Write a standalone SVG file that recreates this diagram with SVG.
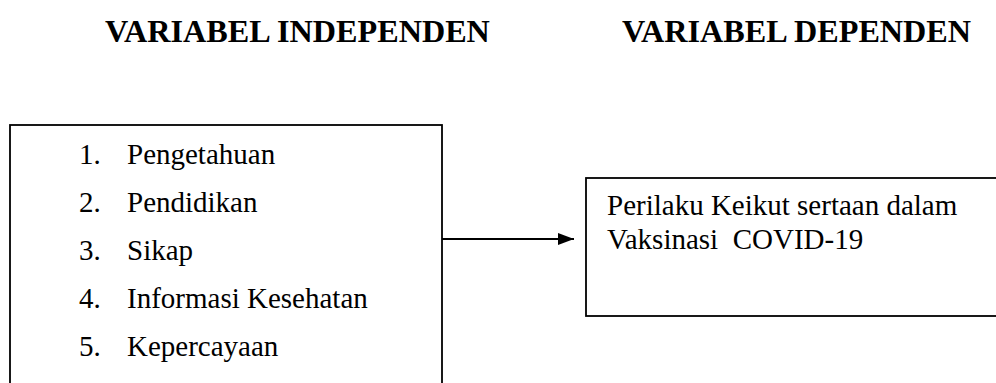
<svg xmlns="http://www.w3.org/2000/svg" width="996" height="383" viewBox="0 0 996 383">
  <style>
    .h { font-family: "Liberation Serif", "Times New Roman", serif; font-weight: bold; font-size: 32.2px; fill: #000; }
    .t { font-family: "Liberation Serif", "Times New Roman", serif; font-size: 29px; fill: #000; white-space: pre; }
    .box { fill: #fff; stroke: #000; stroke-width: 1.8; }
    .conn { stroke: #000; stroke-width: 1.8; fill: none; }
  </style>
  <defs>
    <marker id="arr" markerWidth="16" markerHeight="12" refX="16" refY="6" orient="auto" markerUnits="userSpaceOnUse">
      <path d="M0,0 L16,6 L0,12 Z" fill="#000"/>
    </marker>
  </defs>
  <rect width="996" height="383" fill="#fff"/>
  <text class="h" x="105" y="42">VARIABEL INDEPENDEN</text>
  <text class="h" x="622" y="42">VARIABEL DEPENDEN</text>

  <g id="independen">
    <rect class="box" x="10" y="125" width="432" height="270"/>
    <text class="t" x="79" y="164">1.</text><text class="t" x="127" y="164">Pengetahuan</text>
    <text class="t" x="79" y="212">2.</text><text class="t" x="127" y="212">Pendidikan</text>
    <text class="t" x="79" y="260">3.</text><text class="t" x="127" y="260">Sikap</text>
    <text class="t" x="79" y="308">4.</text><text class="t" x="127" y="308">Informasi Kesehatan</text>
    <text class="t" x="79" y="356">5.</text><text class="t" x="127" y="356">Kepercayaan</text>
  </g>

  <g id="dependen">
    <rect class="box" x="586" y="178" width="420" height="138"/>
    <text class="t" x="607" y="215">Perilaku Keikut sertaan dalam</text>
    <text class="t" x="607" y="249" xml:space="preserve">Vaksinasi  COVID-19</text>
  </g>

  <g id="connectors">
    <line class="conn" x1="442" y1="239" x2="574" y2="239" marker-end="url(#arr)"/>
  </g>
</svg>
